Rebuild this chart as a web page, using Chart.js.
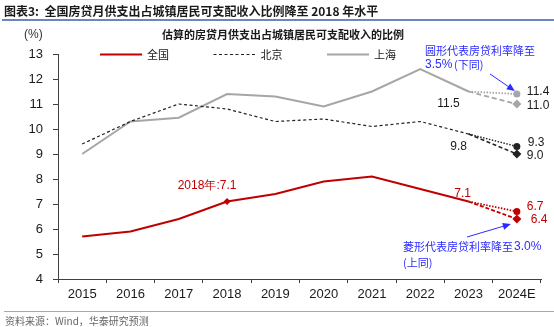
<!DOCTYPE html>
<html>
<head>
<meta charset="utf-8">
<script src="https://cdn.jsdelivr.net/npm/chart.js@4"></script>
<style>
  body { margin: 0; width: 554px; height: 327px; background: #fff; position: relative; overflow: hidden; }
  #header { position: absolute; left: 4px; top: 2px; font: bold 12px "Noto Sans CJK SC", sans-serif; color: #1a1a1a; white-space: pre; }
  #header-line { position: absolute; left: 2px; right: 0; top: 19px; height: 2px; background: #6a88b8; }
  #subtitle { position: absolute; left: 0; width: 566px; top: 26px; text-align: center; font: bold 11px "Noto Sans CJK SC", sans-serif; color: #1a1a1a; }
  #unit { position: absolute; left: 24px; top: 27px; font: 12px "Liberation Sans", Arial, sans-serif; color: #333; }
  #footer-line { position: absolute; left: 4px; right: 0; top: 311px; height: 1px; background: #8faadc; }
  #source { position: absolute; left: 5px; top: 313px; font: 10px "Noto Sans CJK SC", sans-serif; color: #666; }
  #wrap { position: absolute; left: 0; top: 0; width: 554px; height: 327px; }
</style>
</head>
<body>
<div id="wrap"><canvas id="main-chart" width="554" height="327"></canvas></div>
<div id="header">图表3:  全国房贷月供支出占城镇居民可支配收入比例降至 2018 年水平</div>
<div id="header-line"></div>
<div id="subtitle">估算的房贷月供支出占城镇居民可支配收入的比例</div>
<div id="unit">(%)</div>
<div id="footer-line"></div>
<div id="source">资料来源：Wind，华泰研究预测</div>
<script>
// Data
const years = ["2015", "2016", "2017", "2018", "2019", "2020", "2021", "2022", "2023", "2024E"];
const national = [5.7, 5.9, 6.4, 7.1, 7.4, 7.9, 8.1, 7.6, 7.1];
const beijing = [9.4, 10.3, 11.0, 10.8, 10.3, 10.4, 10.1, 10.3, 9.8];
const shanghai = [9.0, 10.3, 10.45, 11.4, 11.3, 10.9, 11.5, 12.4, 11.5];
// 2024E scenarios, order: 全国, 北京, 上海
const circle35 = [6.7, 9.3, 11.4];
const diamond30 = [6.4, 9.0, 11.0];

const RED = "#c00000";
const GRAY = "#a6a6a6";
const BLACK = "#222222";
const BLUE = "#2b2bff";

// extension from 2023 to 2024E
function extension(series, endValue) {
  const arr = years.map(() => null);
  arr[8] = series[8];
  arr[9] = endValue;
  return arr;
}

function mainLine(label, series, color, width, dash) {
  return {
    label: label,
    data: series.concat([null]),
    borderColor: color,
    backgroundColor: color,
    borderWidth: width,
    borderDash: dash,
    pointRadius: 0,
    tension: 0,
    showInLegend: true,
  };
}

function extLine(series, endValue, color, width, dash, style) {
  return {
    label: "",
    data: extension(series, endValue),
    borderColor: color,
    backgroundColor: color,
    borderWidth: width,
    borderDash: dash,
    pointStyle: style,
    pointRadius: years.map((y, i) => (i === 9 ? (style === "circle" ? 3.5 : 4.5) : 0)),
    pointBorderWidth: 0,
    tension: 0,
  };
}

const redMain = mainLine("全国", national, RED, 2, []);
// diamond marker on 2018
redMain.pointStyle = "rectRot";
redMain.pointRadius = years.map((y, i) => (i === 3 ? 3.5 : 0));
redMain.pointBorderWidth = 0;

const datasets = [
  redMain,
  mainLine("北京", beijing, BLACK, 1.2, [3, 2.5]),
  mainLine("上海", shanghai, GRAY, 2, []),
  extLine(national, circle35[0], RED, 1.8, [1.5, 1.5], "circle"),
  extLine(national, diamond30[0], RED, 1.8, [4, 2], "rectRot"),
  extLine(beijing, circle35[1], BLACK, 1.5, [1.5, 1.5], "circle"),
  extLine(beijing, diamond30[1], BLACK, 1.5, [4, 2.5], "rectRot"),
  extLine(shanghai, circle35[2], GRAY, 1.8, [1.5, 1.5], "circle"),
  extLine(shanghai, diamond30[2], GRAY, 1.8, [5, 3], "rectRot"),
];

// Legend drawn inside the plot area
const legendPlugin = {
  id: "insideLegend",
  afterDraw(chart) {
    const ctx = chart.ctx;
    const area = chart.chartArea;
    const items = chart.data.datasets.filter((d) => d.showInLegend);
    ctx.save();
    items.forEach((d, i) => {
      const x = area.left + 42 + i * 113.5;
      const y = area.top + 0.5;
      ctx.strokeStyle = d.borderColor;
      ctx.lineWidth = d.borderWidth;
      ctx.setLineDash(d.borderDash);
      ctx.beginPath();
      ctx.moveTo(x, y);
      ctx.lineTo(x + 42, y);
      ctx.stroke();
      ctx.setLineDash([]);
      ctx.fillStyle = "#1a1a1a";
      ctx.font = '11px "Noto Sans CJK SC", sans-serif';
      ctx.textBaseline = "middle";
      ctx.fillText(d.label, x + 47, y);
    });
    ctx.restore();
  },
};

function arrow(ctx, x1, y1, x2, y2) {
  const ang = Math.atan2(y2 - y1, x2 - x1);
  ctx.beginPath();
  ctx.moveTo(x1, y1);
  ctx.lineTo(x2 - 6 * Math.cos(ang), y2 - 6 * Math.sin(ang));
  ctx.stroke();
  ctx.beginPath();
  ctx.moveTo(x2, y2);
  ctx.lineTo(x2 - 8 * Math.cos(ang) + 3.5 * Math.sin(ang), y2 - 8 * Math.sin(ang) - 3.5 * Math.cos(ang));
  ctx.lineTo(x2 - 8 * Math.cos(ang) - 3.5 * Math.sin(ang), y2 - 8 * Math.sin(ang) + 3.5 * Math.cos(ang));
  ctx.closePath();
  ctx.fill();
}

// Value labels and notes
const notesPlugin = {
  id: "notes",
  afterDatasetsDraw(chart) {
    const ctx = chart.ctx;
    const xs = chart.scales.x;
    const ys = chart.scales.y;
    const x23 = xs.getPixelForValue(8);
    const x24 = xs.getPixelForValue(9);
    const num = '12px "Liberation Sans", Arial, sans-serif';
    ctx.save();
    ctx.textBaseline = "middle";

    // 2024E end values
    ctx.textAlign = "left";
    ctx.font = num;
    ctx.fillStyle = "#1a1a1a";
    ctx.fillText(circle35[2].toFixed(1), x24 + 10, ys.getPixelForValue(circle35[2]) - 2);
    ctx.fillText(diamond30[2].toFixed(1), x24 + 10, ys.getPixelForValue(diamond30[2]) + 2);
    ctx.fillText(circle35[1].toFixed(1), x24 + 11, ys.getPixelForValue(circle35[1]) - 4);
    ctx.fillText(diamond30[1].toFixed(1), x24 + 10, ys.getPixelForValue(diamond30[1]) + 2);
    ctx.fillStyle = RED;
    ctx.fillText(circle35[0].toFixed(1), x24 + 10, ys.getPixelForValue(circle35[0]) - 5);
    ctx.fillText(diamond30[0].toFixed(1), x24 + 14, ys.getPixelForValue(diamond30[0]) + 1);

    // 2023 values
    ctx.textAlign = "center";
    ctx.fillStyle = "#1a1a1a";
    ctx.fillText(shanghai[8].toFixed(1), x23 - 20, ys.getPixelForValue(shanghai[8]) + 12);
    ctx.fillText(beijing[8].toFixed(1), x23 - 10, ys.getPixelForValue(beijing[8]) + 13);
    ctx.fillStyle = RED;
    ctx.fillText(national[8].toFixed(1), x23 - 6, ys.getPixelForValue(national[8]) - 8);
    ctx.fillText(years[3] + "年:" + national[3].toFixed(1), xs.getPixelForValue(3) - 20, ys.getPixelForValue(national[3]) - 16);

    // blue notes
    ctx.fillStyle = BLUE;
    ctx.strokeStyle = BLUE;
    ctx.lineWidth = 1;
    ctx.textAlign = "left";
    ctx.font = '11px "Noto Sans CJK SC", sans-serif';
    ctx.fillText("圆形代表房贷利率降至", 425, 51);
    ctx.font = num;
    ctx.fillText("3.5%", 425, 65);
    ctx.font = '11px "Noto Sans CJK SC", sans-serif';
    ctx.fillText("(下同)", 454, 65);
    arrow(ctx, 490, 74, x24 - 2, ys.getPixelForValue(circle35[2]) - 3);

    ctx.font = '11px "Noto Sans CJK SC", sans-serif';
    ctx.fillText("菱形代表房贷利率降至", 403, 247);
    ctx.font = num;
    ctx.fillText("3.0%", 514, 247);
    ctx.font = '11px "Noto Sans CJK SC", sans-serif';
    ctx.fillText("(上同)", 403, 263);
    arrow(ctx, 467, 237, x24 - 6, ys.getPixelForValue(diamond30[0]) + 5);
    ctx.restore();
  },
};

const axisColor = "#404040";
const tickFont = { family: '"Liberation Sans", Arial, sans-serif', size: 13 };

new Chart(document.getElementById("main-chart").getContext("2d"), {
  type: "line",
  data: { labels: years, datasets: datasets },
  options: {
    responsive: false,
    animation: false,
    spanGaps: false,
    layout: { padding: { left: 28, right: 13, top: 54, bottom: 18 } },
    plugins: { legend: { display: false }, tooltip: { enabled: false } },
    scales: {
      x: {
        offset: true,
        grid: { display: true, offset: true, drawOnChartArea: false, drawTicks: true, tickLength: 4, color: axisColor },
        border: { display: true, color: axisColor, width: 1 },
        ticks: { color: "#1a1a1a", font: tickFont, padding: 4, maxRotation: 0 },
        afterFit: (scale) => { scale.height = 30; },
      },
      y: {
        min: 4,
        max: 13,
        grid: { display: true, drawOnChartArea: false, drawTicks: true, tickLength: 5, color: axisColor },
        border: { display: true, color: axisColor, width: 1 },
        ticks: { stepSize: 1, color: "#1a1a1a", font: tickFont, padding: 10 },
        afterFit: (scale) => { scale.width = 30; },
      },
    },
  },
  plugins: [legendPlugin, notesPlugin],
});
</script>
</body>
</html>
